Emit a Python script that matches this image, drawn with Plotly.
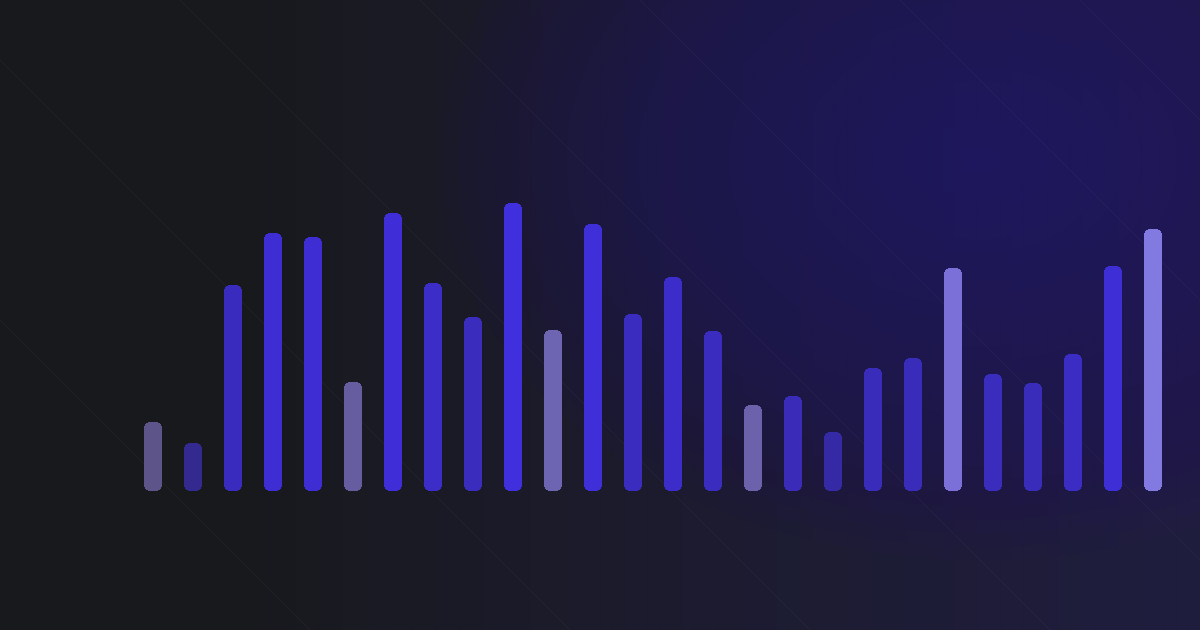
import plotly.graph_objects as go

# ---- data (bar heights) ----
categories = list(range(1, 27))
values = [69, 48, 206, 258, 254, 109, 278, 208, 174, 288, 161, 267, 177,
          214, 160, 86, 95, 59, 123, 133, 223, 117, 108, 137, 225, 262]
bar_colors = ["#5d5589", "#33298f", "#3a2bbf", "#3e2dd3", "#3e2dd3", "#665da0",
              "#3f2ed8", "#3c2dc9", "#3a2cbc", "#402fdc", "#6e65b2", "#3f2fd8",
              "#3a2cbf", "#3c2dcb", "#3a2cbf", "#6b62ab", "#3a2cb8", "#3529a5",
              "#3a2cbb", "#3a2cbb", "#7b70d8", "#3a2cbd", "#3a2cbb", "#3b2cc3",
              "#3e2ed5", "#8279e1"]

W, H = 1200, 630
BASE_PX = 491      # pixel row of bar bottoms
CAP = 10           # height of the rounded bottom cap (value units = px)
OVER = 20          # overlap of the cap into the main bar

fig = go.Figure()
# bottom cap, rounded bottom (drawn first, overlapped by the main bar)
fig.add_trace(go.Bar(x=categories, y=[-(CAP + OVER)] * len(values), base=OVER, width=0.45,
                     marker=dict(color=bar_colors, line=dict(width=0), cornerradius=6),
                     hoverinfo="skip", showlegend=False))
# main part, rounded top
fig.add_trace(go.Bar(x=categories, y=[v - CAP for v in values], base=0, width=0.45,
                     marker=dict(color=bar_colors, line=dict(width=0), cornerradius=6),
                     hoverinfo="skip", showlegend=False))
# cap again on top so any rounding at the seam is covered
fig.add_trace(go.Bar(x=categories, y=[-(CAP + OVER)] * len(values), base=OVER, width=0.45,
                     marker=dict(color=bar_colors, line=dict(width=0), cornerradius=6),
                     hoverinfo="skip", showlegend=False))

# ---- background styling ----
shapes = []

def lerp(c1, c2, t):
    return "#%02x%02x%02x" % tuple(int(round(a + (b - a) * t)) for a, b in zip(c1, c2))

left = (24, 25, 29)
right = (31, 29, 62)
x_start = 260
n_strips = 80
for i in range(n_strips):
    x0 = x_start + (W - x_start) * i / n_strips
    x1 = x_start + (W - x_start) * (i + 1) / n_strips + 1
    t = (i + 0.5) / n_strips
    col = lerp(left, right, t ** 0.8)
    shapes.append(dict(type="rect", xref="paper", yref="paper",
                       x0=x0 / W, x1=min(x1, W) / W, y0=0, y1=1,
                       fillcolor=col, line=dict(width=0), layer="below"))

# radial glow
cx, cy = 980, 160
n_glow = 30
Rx, Ry = 540, 400
for k in range(n_glow):
    f = 1 - k / n_glow
    rx, ry = Rx * f, Ry * f
    shapes.append(dict(type="circle", xref="paper", yref="paper",
                       x0=(cx - rx) / W, x1=(cx + rx) / W,
                       y0=1 - (cy + ry) / H, y1=1 - (cy - ry) / H,
                       fillcolor="rgba(40,34,118,0.045)", line=dict(width=0), layer="below"))

# faint diagonal lines (45 degrees)
for xs in [-320, -60, 180, 420, 640, 900, 1080]:
    shapes.append(dict(type="line", xref="paper", yref="paper",
                       x0=xs / W, y0=1, x1=(xs + 900) / W, y1=1 - 900 / H,
                       line=dict(color="rgba(255,255,255,0.035)", width=1), layer="below"))

ymax = BASE_PX - CAP
fig.update_layout(
    width=W, height=H,
    margin=dict(l=0, r=0, t=0, b=0),
    paper_bgcolor="#18191d", plot_bgcolor="rgba(0,0,0,0)",
    barmode="overlay", bargap=0,
    xaxis=dict(range=[1 - 153 / 40, 1 + (W - 153) / 40], visible=False, fixedrange=True),
    yaxis=dict(range=[ymax - H, ymax], visible=False, fixedrange=True),
    shapes=shapes,
)

fig.write_html("out.html", config={"displayModeBar": False},
               post_script="document.body.style.margin='0';document.body.style.overflow='hidden';")
